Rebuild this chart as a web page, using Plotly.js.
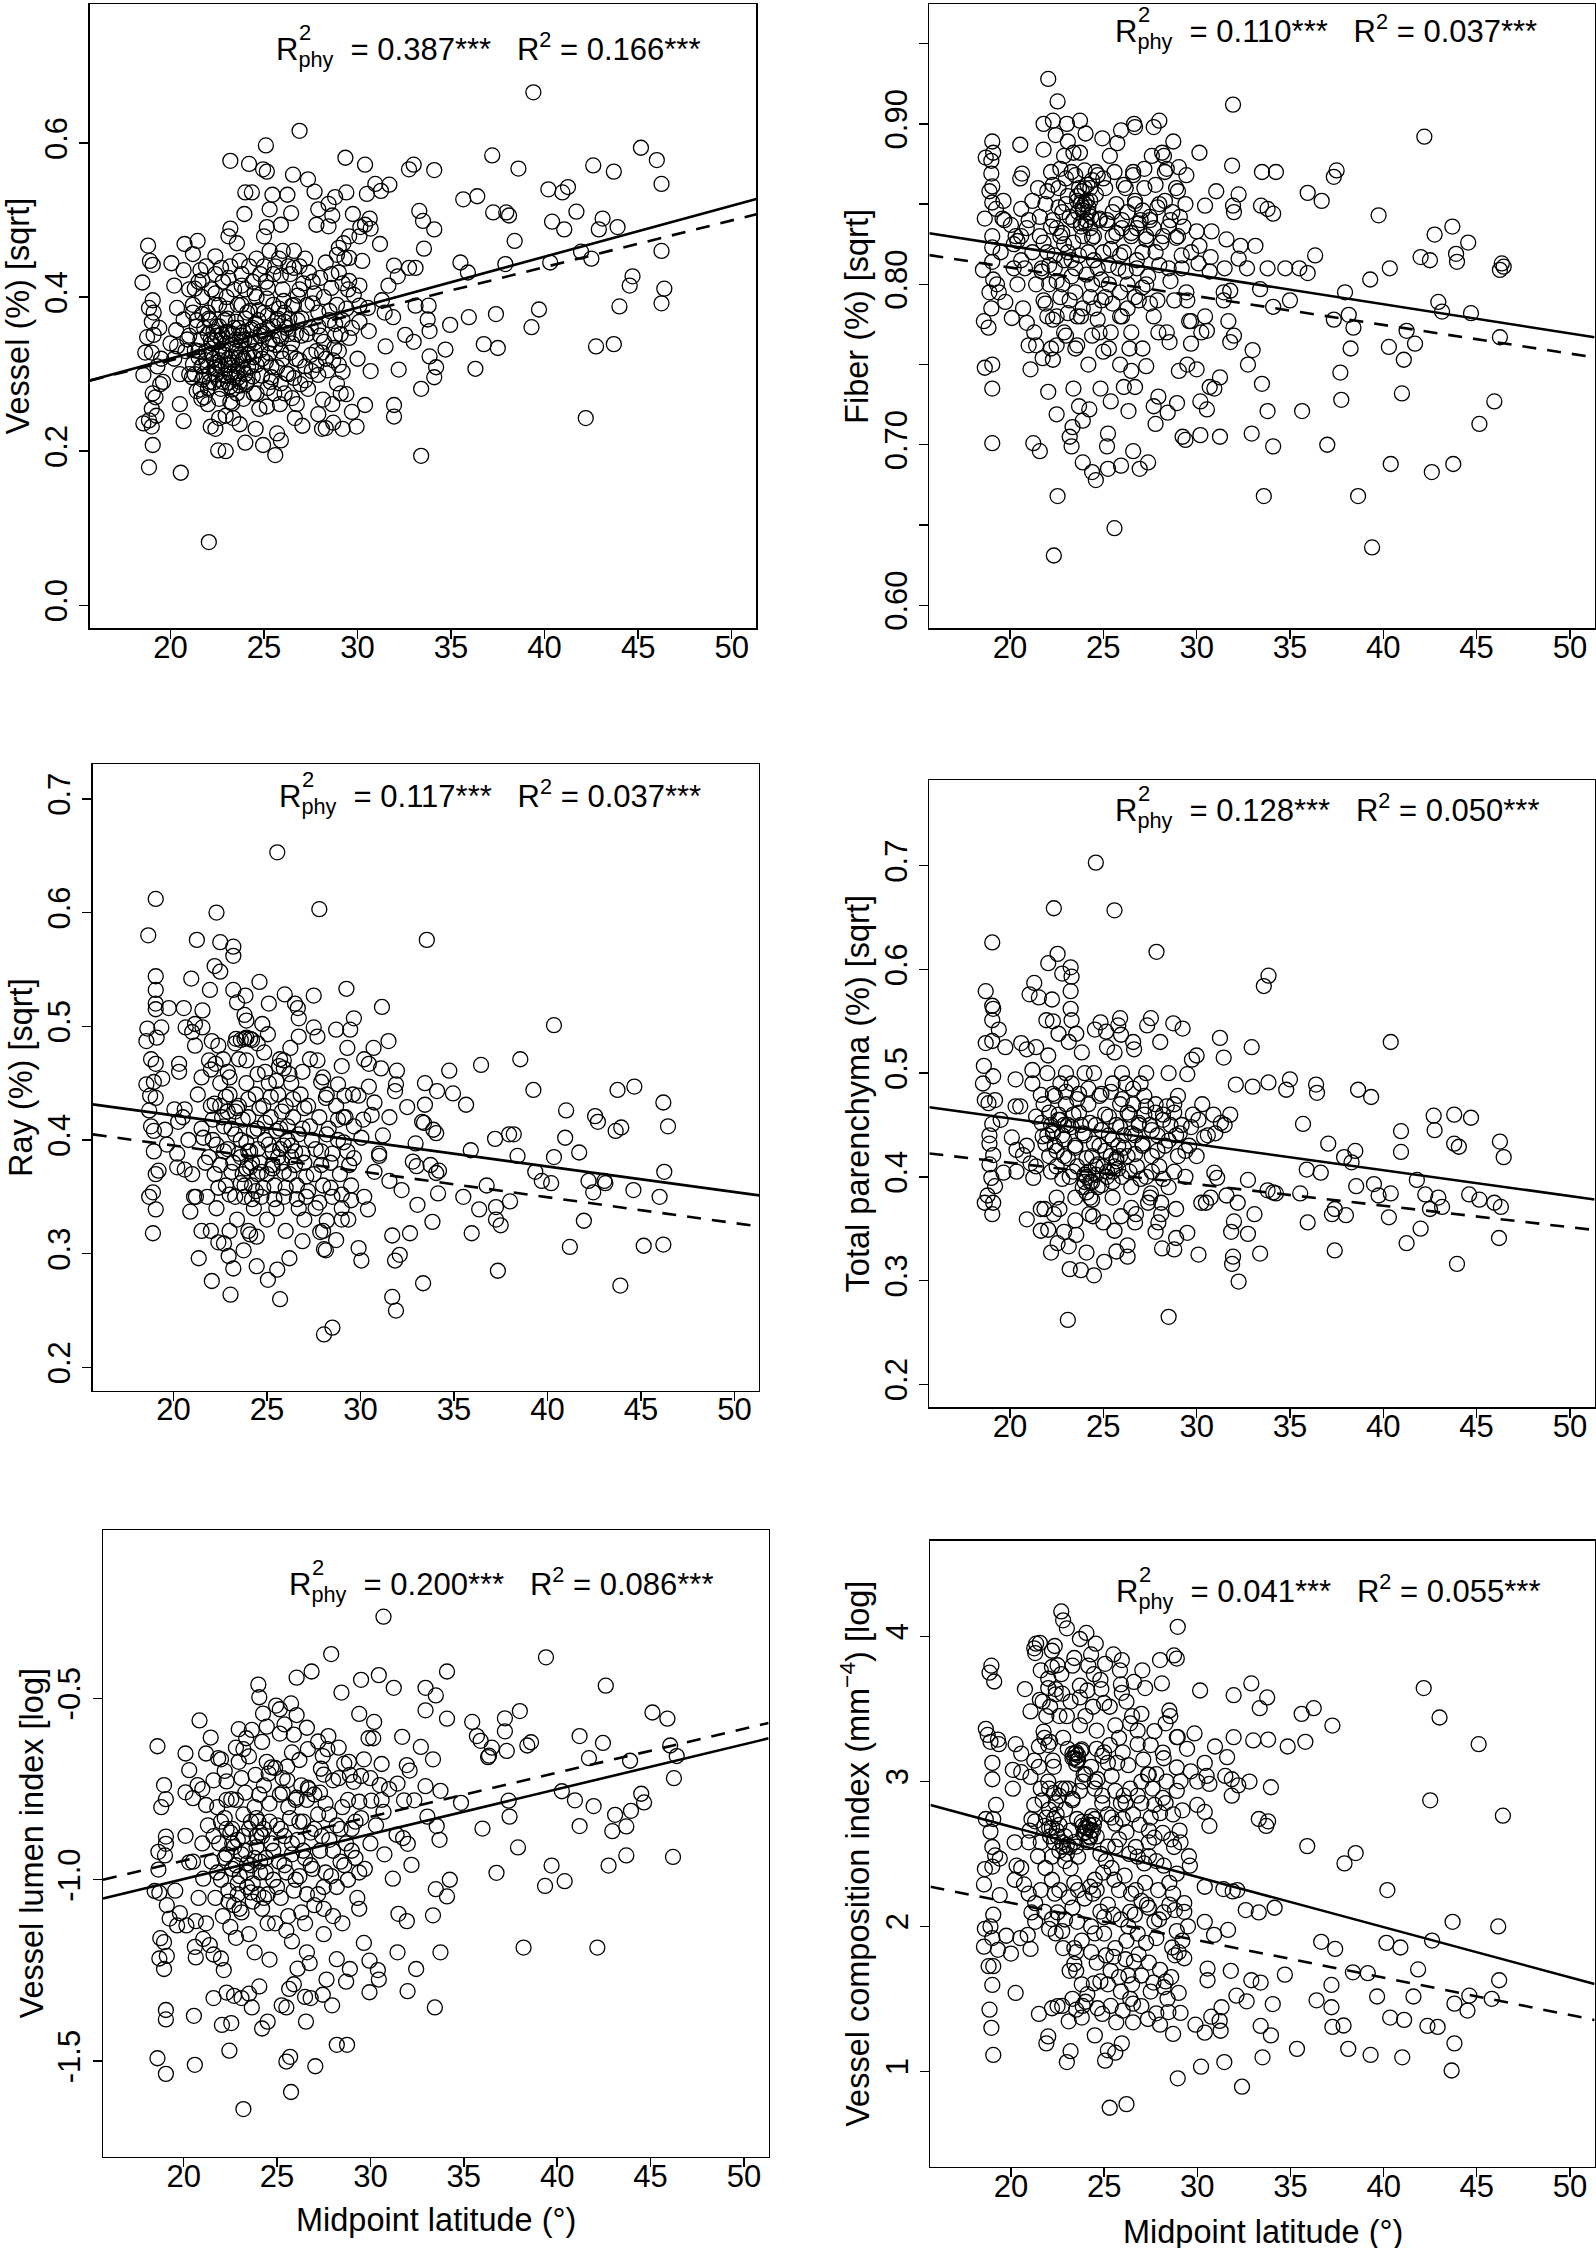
<!DOCTYPE html>
<html><head><meta charset="utf-8">
<script src="https://cdn.plot.ly/plotly-3.0.1.min.js"></script>
<style>html,body{margin:0;padding:0;background:#fff}</style>
</head><body>
<div id="chart" style="width:1596px;height:2248px"></div>
<script>
// ---------- DATA ----------
const latTicks = [20, 25, 30, 35, 40, 45, 50];
const latTickText = ["20", "25", "30", "35", "40", "45", "50"];

const yTitles = ["Vessel (%) [sqrt]", "Fiber (%) [sqrt]", "Ray (%) [sqrt]",
  "Total parenchyma (%) [sqrt]", "Vessel lumen index [log]",
  "Vessel composition index (mm<sup>\u22124</sup>) [log]"];
const xTitle = "Midpoint latitude (\u00b0)";

const vesselTicks = [0, 0.2, 0.4, 0.6];
const vesselTickText = ["0.0", "0.2", "0.4", "0.6"];
const fiberTicks = [0.60, 0.65, 0.70, 0.75, 0.80, 0.85, 0.90, 0.95];
const fiberTickText = ["0.60", "", "0.70", "", "0.80", "", "0.90", ""];
const rayTicks = [0.2, 0.3, 0.4, 0.5, 0.6, 0.7];
const rayTickText = ["0.2", "0.3", "0.4", "0.5", "0.6", "0.7"];
const parTicks = [0.2, 0.3, 0.4, 0.5, 0.6, 0.7];
const parTickText = ["0.2", "0.3", "0.4", "0.5", "0.6", "0.7"];
const lumenTicks = [-1.5, -1.0, -0.5];
const lumenTickText = ["-1.5", "-1.0", "-0.5"];
const compTicks = [1, 2, 3, 4];
const compTickText = ["1", "2", "3", "4"];

const rPhy = ["0.387", "0.110", "0.117", "0.128", "0.200", "0.041"];
const rSq = ["0.166", "0.037", "0.037", "0.050", "0.086", "0.055"];

// regression lines: intercept, slope (solid = phylogenetic, dashed = OLS)
const solidA = [0.1879, 0.8603, 0.4666, 0.5062, -1.2457, 3.380];
const solidB = [0.006616, -0.001818, -0.002247, -0.002494, 0.012382, -0.03464];
const dashA = [0.1966, 0.8462, 0.4406, 0.4550, -1.1902, 2.677];
const dashB = [0.00606, -0.001787, -0.002273, -0.002071, 0.01213, -0.02577];

const vesselPts = [[39.4,0.666],[45.15,0.594],[46.0,0.578],[46.25,0.547],[46.25,0.460],[46.4,0.411],[46.25,0.392],[44.7,0.427],[44.55,0.415],[44.0,0.388],[43.7,0.339],[42.75,0.336],[42.2,0.243],[43.7,0.563],[42.6,0.571],[43.1,0.502],[42.9,0.488],[43.9,0.491],[42.5,0.450],[41.95,0.459],[41.7,0.511],[41.05,0.488],[41.25,0.543],[40.95,0.536],[40.2,0.540],[40.4,0.498],[40.3,0.445],[39.7,0.384],[39.3,0.361],[38.6,0.567],[38.4,0.473],[38.1,0.506],[37.95,0.510],[37.9,0.443],[37.2,0.584],[37.25,0.510],[37.4,0.378],[37.5,0.334],[36.4,0.531],[35.65,0.527],[35.5,0.445],[35.9,0.432],[35.95,0.374],[36.75,0.339],[36.3,0.307],[34.95,0.364],[34.7,0.332],[34.1,0.565],[34.1,0.488],[33.3,0.512],[33.5,0.499],[33.55,0.463],[33.0,0.572],[32.75,0.566],[33.1,0.438],[32.75,0.438],[33.8,0.389],[33.75,0.371],[33.85,0.356],[33.85,0.323],[34.2,0.309],[34.1,0.296],[33.4,0.281],[33.4,0.194],[33.0,0.342],[32.55,0.351],[33.1,0.389],[32.2,0.306],[31.95,0.260],[31.95,0.245],[31.7,0.546],[30.95,0.547],[31.25,0.538],[30.4,0.572],[29.35,0.581],[30.5,0.534],[29.4,0.536],[28.8,0.530],[29.75,0.508],[30.65,0.502],[30.4,0.494],[31.2,0.469],[31.95,0.441],[32.15,0.427],[31.65,0.415],[31.3,0.396],[31.45,0.380],[31.9,0.374],[31.5,0.336],[30.6,0.356],[30.7,0.304],[30.0,0.320],[30.4,0.260],[29.95,0.232],[29.7,0.251],[29.2,0.229],[28.7,0.237],[28.3,0.230],[28.1,0.229],[27.9,0.248],[27.05,0.233],[26.65,0.243],[25.9,0.214],[25.7,0.223],[25.6,0.195],[24.95,0.208],[24.55,0.229],[24.0,0.211],[23.7,0.235],[22.95,0.200],[22.55,0.201],[22.05,0.082],[22.4,0.229],[22.15,0.232],[20.55,0.172],[18.85,0.179],[19.05,0.208],[18.85,0.240],[18.55,0.236],[19.0,0.232],[20.5,0.261],[20.7,0.239],[21.15,0.296],[18.55,0.299],[18.65,0.328],[18.75,0.348],[18.85,0.386],[18.5,0.419],[18.8,0.467],[18.9,0.447],[19.05,0.442],[19.05,0.396],[19.1,0.380],[19.0,0.368],[19.1,0.351],[19.0,0.328],[19.05,0.275],[19.2,0.270],[19.0,0.255],[19.25,0.246],[19.45,0.287],[20.05,0.444],[20.2,0.415],[20.35,0.386],[20.7,0.371],[20.3,0.357],[20.35,0.336],[20.75,0.469],[20.7,0.435],[21.2,0.456],[21.45,0.473],[21.6,0.435],[21.3,0.411],[21.2,0.380],[20.9,0.345],[21.3,0.331],[21.2,0.313],[21.65,0.310],[21.7,0.293],[21.65,0.268],[22.0,0.261],[22.4,0.453],[22.7,0.438],[23.2,0.489],[23.1,0.479],[23.2,0.577],[24.2,0.573],[23.55,0.470],[23.7,0.447],[23.95,0.508],[24.0,0.536],[24.35,0.536],[25.1,0.597],[25.15,0.563],[24.95,0.566],[25.45,0.533],[26.25,0.533],[26.55,0.559],[26.9,0.616],[27.35,0.553],[27.7,0.537],[27.9,0.514],[26.45,0.509],[25.9,0.494],[25.3,0.514],[25.15,0.491],[25.0,0.479],[27.8,0.494],[28.45,0.521],[28.65,0.506],[28.45,0.492],[29.0,0.464],[29.25,0.470],[29.55,0.479],[29.55,0.451],[30.1,0.479],[30.15,0.491],[30.25,0.447],[30.7,0.489],[29.0,0.432],[29.55,0.421],[30.1,0.415],[29.8,0.403],[30.1,0.389],[30.55,0.386],[30.1,0.368],[29.55,0.347],[28.75,0.334],[29.2,0.303],[28.9,0.288],[29.4,0.274],[29.1,0.275],[28.65,0.261],[28.15,0.267],[27.9,0.299],[27.55,0.304],[27.35,0.281],[26.75,0.261],[26.95,0.287],[26.5,0.269],[26.1,0.275],[25.85,0.261],[25.55,0.275],[25.35,0.290],[25.15,0.258],[24.75,0.255],[24.45,0.275],[24.05,0.287],[23.55,0.275],[23.2,0.264],[22.95,0.246],[22.6,0.243],[23.35,0.243],[23.1,0.289],[22.55,0.293],
[21.8,0.36],[21.9,0.33],[22.0,0.31],[22.1,0.29],[22.2,0.34],[22.3,0.32],[22.4,0.30],[22.5,0.35],[22.6,0.33],[22.7,0.31],[22.8,0.29],[22.9,0.37],[23.0,0.34],[23.1,0.32],[23.2,0.30],[23.3,0.28],[23.4,0.36],[23.5,0.33],[23.6,0.31],[23.7,0.29],[23.8,0.35],[23.9,0.32],[24.0,0.30],[24.1,0.38],[24.2,0.34],[24.3,0.31],[24.4,0.36],[24.5,0.33],[24.6,0.40],[24.7,0.37],[24.8,0.35],[24.9,0.32],[25.0,0.38],[25.1,0.42],[25.2,0.36],[25.3,0.34],[25.4,0.31],[25.5,0.39],[25.6,0.44],[25.7,0.37],[25.8,0.35],[25.9,0.33],[26.0,0.41],[26.1,0.38],[26.2,0.36],[26.3,0.30],[26.4,0.43],[26.5,0.34],[26.6,0.39],[26.7,0.32],[26.8,0.37],[26.9,0.41],[27.0,0.35],[27.2,0.31],[27.3,0.39],[27.5,0.36],[27.6,0.42],[27.8,0.33],[27.9,0.38],[28.0,0.35],[28.2,0.40],[28.3,0.32],[28.5,0.37],[28.6,0.43],[28.8,0.35],[28.9,0.39],[29.0,0.33],[29.2,0.37],[29.3,0.45],[29.5,0.41],[29.7,0.36],
[21.0,0.41],[21.2,0.39],[21.4,0.37],[21.5,0.42],[21.7,0.40],[21.9,0.44],[22.0,0.38],[22.2,0.41],[22.4,0.43],[22.6,0.39],[22.8,0.42],[23.0,0.40],[23.2,0.44],[23.4,0.41],[23.6,0.39],[23.8,0.43],[24.0,0.41],[24.2,0.44],[24.4,0.42],[24.6,0.45],[24.8,0.43],[25.0,0.44],[25.3,0.46],[25.5,0.43],[25.8,0.45],[26.0,0.46],[26.3,0.44],[26.6,0.46],[26.9,0.44],[27.2,0.45],
[19.3,0.31],[19.5,0.32],[19.6,0.29],[19.4,0.36],[20.0,0.34],[20.2,0.32],[20.5,0.30],[20.8,0.33],[21.0,0.30],[21.0,0.35],[21.5,0.33],[21.6,0.28],[21.7,0.31],[21.8,0.27],
[22.1,0.37],[22.3,0.355],[22.5,0.315],[22.7,0.345],[22.9,0.325],[23.1,0.355],[23.3,0.315],[23.5,0.345],[23.7,0.325],[23.9,0.355],[24.1,0.325],[24.3,0.345],[23.2,0.30],[23.6,0.295],[24.0,0.30],[22.4,0.39],[23.0,0.385],[23.8,0.39],
[21.3,0.300],[21.5,0.322],[21.6,0.345],[21.8,0.297],[21.9,0.318],[22.0,0.352],[22.1,0.301],[22.2,0.327],[22.3,0.289],[22.4,0.344],[22.5,0.306],[22.6,0.362],[22.7,0.281],[22.8,0.331],[22.9,0.298],[23.0,0.355],[23.1,0.312],[23.2,0.284],[23.3,0.338],[23.4,0.296],[23.5,0.368],[23.6,0.321],[23.7,0.285],[23.8,0.342],[23.9,0.306],[24.0,0.372],[24.1,0.290],[24.2,0.326],[24.3,0.358],[24.4,0.297],[24.5,0.341],[24.6,0.312],[24.7,0.383],[24.8,0.331],[24.9,0.298],[25.0,0.352],[25.1,0.316],[25.2,0.376],[25.3,0.327],[25.4,0.296],[25.5,0.362],[25.6,0.338],[25.7,0.309],[25.8,0.385],[25.9,0.346],[26.0,0.320],[26.1,0.368],[26.2,0.301],[26.3,0.352],[26.4,0.328],[26.5,0.389],[21.4,0.362],[21.7,0.378],[22.05,0.372],[22.35,0.308],[22.65,0.318],[22.95,0.312],[23.25,0.322],[23.55,0.301],[23.85,0.318],[24.15,0.309],[24.45,0.322],[22.15,0.345],[22.45,0.362],[22.75,0.352],[23.05,0.372],[23.35,0.352],[23.65,0.360],[23.95,0.345],[24.25,0.382],[24.55,0.366],[24.85,0.356],[25.15,0.398],[25.45,0.345],[25.75,0.372],[26.05,0.395],[26.35,0.372],[26.7,0.352],[27.0,0.372],[27.3,0.352],[27.6,0.392],[27.9,0.362],[28.2,0.342],[28.5,0.382],[28.8,0.365],[29.1,0.352],[29.4,0.385],[26.8,0.402],[27.1,0.418],[27.4,0.432],[27.7,0.405],[28.0,0.425],[28.3,0.445],[28.6,0.412],[28.9,0.455],[29.2,0.418],[26.6,0.438],[25.9,0.428],[25.2,0.412],[24.5,0.405],[23.8,0.415],[23.1,0.425],[22.4,0.405],[21.7,0.422],[26.9,0.318],[27.2,0.292],[27.5,0.325],[27.8,0.312],[28.1,0.328],[28.4,0.305],[28.7,0.318],[29.0,0.312],[26.6,0.295],[25.9,0.288],[25.2,0.282],[24.6,0.275],[23.9,0.268],[23.3,0.262],[22.6,0.268],[22.0,0.282],[21.4,0.278]];

const fiberPts = [[22.05,0.928],[22.55,0.914],[31.95,0.912],[42.2,0.892],[22.3,0.902],[21.8,0.900],[23.75,0.902],[23.05,0.900],[26.65,0.900],[26.7,0.898],[28.0,0.902],[27.7,0.898],[24.05,0.894],[24.95,0.891],[25.95,0.896],[25.75,0.888],[28.75,0.889],[22.45,0.893],[23.1,0.889],[20.55,0.887],[19.05,0.889],[19.1,0.882],[18.7,0.879],[19.0,0.877],[23.4,0.882],[23.75,0.882],[21.8,0.884],[25.35,0.880],[28.15,0.882],[28.25,0.880],[30.15,0.882],[31.9,0.874],[33.5,0.870],[34.25,0.870],[37.5,0.871],[37.35,0.867],[20.65,0.869],[20.55,0.866],[19.0,0.869],[19.05,0.861],[18.9,0.858],[19.05,0.851],[19.25,0.847],[18.65,0.841],[19.65,0.852],[19.6,0.841],[20.05,0.837],[20.6,0.847],[20.4,0.827],[19.05,0.830],[19.05,0.823],[19.05,0.814],[18.55,0.809],[19.1,0.803],[18.9,0.795],[19.4,0.795],[19.75,0.789],[19.0,0.785],[18.6,0.777],[18.85,0.773],[20.1,0.779],[20.7,0.785],[20.9,0.776],[18.65,0.748],[19.05,0.750],[19.05,0.735],[19.05,0.701],[21.1,0.747],[21.25,0.701],[21.6,0.696],[21.0,0.762],[21.4,0.762],[21.75,0.754],[22.3,0.753],[22.05,0.733],[22.5,0.719],[22.55,0.668],[22.35,0.631],[23.35,0.711],[23.2,0.705],[23.3,0.699],[23.4,0.735],[23.7,0.724],[23.9,0.715],[24.25,0.722],[23.9,0.689],[24.4,0.683],[24.6,0.678],[24.85,0.735],[25.2,0.699],[25.25,0.707],[25.4,0.727],[25.25,0.685],[25.6,0.648],[25.95,0.687],[26.1,0.736],[26.35,0.721],[26.6,0.696],[26.95,0.685],[27.4,0.689],[26.7,0.736],[26.5,0.746],[27.3,0.749],[27.7,0.724],[27.95,0.730],[27.8,0.713],[28.45,0.720],[28.95,0.726],[29.25,0.705],[29.4,0.703],[29.05,0.746],[29.5,0.750],[30.0,0.747],[30.2,0.727],[30.2,0.706],[30.55,0.722],[30.7,0.736],[30.95,0.735],[31.25,0.742],[31.25,0.705],[27.95,0.770],[28.55,0.764],[29.7,0.763],[29.6,0.777],[30.45,0.780],[30.55,0.771],[30.25,0.770],[31.7,0.777],[31.8,0.764],[32.0,0.768],[33.0,0.759],[32.75,0.750],[33.5,0.738],[33.8,0.721],[32.95,0.707],[34.1,0.699],[33.6,0.668],[35.65,0.721],[37.0,0.700],[37.7,0.745],[37.75,0.728],[38.65,0.668],[39.4,0.636],[40.4,0.688],[42.6,0.683],[43.75,0.688],[45.15,0.713],[45.95,0.727],[41.0,0.732],[41.1,0.753],[40.3,0.761],[41.7,0.763],[41.25,0.771],[38.4,0.773],[38.25,0.760],[37.35,0.778],[38.15,0.781],[37.95,0.795],[42.95,0.789],[43.15,0.783],[44.7,0.782],[46.25,0.767],[46.25,0.809],[46.45,0.811],[46.35,0.813],[43.9,0.819],[43.95,0.814],[44.55,0.826],[43.7,0.836],[42.75,0.831],[42.5,0.815],[42.0,0.817],[40.35,0.810],[39.3,0.803],[39.75,0.843],[36.7,0.852],[35.95,0.857],[36.35,0.818],[35.95,0.807],[35.5,0.810],[34.75,0.810],[35.0,0.790],[34.1,0.786],[33.8,0.810],[32.7,0.810],[33.4,0.797],[33.45,0.849],[33.8,0.847],[34.1,0.844],[32.25,0.856],[31.95,0.849],[32.0,0.845],[31.05,0.858],[30.45,0.849],[31.6,0.828],[32.35,0.824],[33.15,0.824],[32.25,0.816],[31.5,0.810],[30.75,0.817],[30.8,0.833],[30.0,0.833],[30.15,0.824],[30.7,0.808],[31.45,0.795],[31.8,0.796],[31.45,0.790],[29.45,0.868],[29.05,0.873],[30.1,0.813],[29.45,0.795],[29.7,0.777],
[21.0,0.84],[21.2,0.82],[21.4,0.80],[21.5,0.86],[21.6,0.83],[21.7,0.81],[21.8,0.79],[21.9,0.85],[22.0,0.82],[22.1,0.80],[22.2,0.87],[22.3,0.84],[22.4,0.81],[22.5,0.78],[22.6,0.86],[22.7,0.83],[22.8,0.80],[22.9,0.88],[23.0,0.85],[23.1,0.82],[23.2,0.79],[23.3,0.87],[23.4,0.84],[23.5,0.81],[23.6,0.78],[23.7,0.86],[23.8,0.85],[23.9,0.83],[24.0,0.85],[24.1,0.84],[24.2,0.82],[24.3,0.86],[24.4,0.80],[24.5,0.83],[24.6,0.87],[24.7,0.81],[24.8,0.84],[24.9,0.79],[25.0,0.82],[25.1,0.86],[25.2,0.84],[25.3,0.80],[25.4,0.77],[25.5,0.83],[25.6,0.87],[25.7,0.85],[25.8,0.81],[25.9,0.78],[26.0,0.84],[26.1,0.82],[26.2,0.86],[26.3,0.80],[26.4,0.76],[26.5,0.83],[26.6,0.87],[26.7,0.85],[26.8,0.81],[26.9,0.79],[27.0,0.84],[27.1,0.82],[27.2,0.86],[27.3,0.80],[27.5,0.84],[27.6,0.88],[27.8,0.82],[27.9,0.79],[28.0,0.85],[28.2,0.83],[28.3,0.87],[28.5,0.81],[28.6,0.84],[28.8,0.79],[28.9,0.86],[29.0,0.83],[29.2,0.81],[29.4,0.85],[29.5,0.79],[29.7,0.82],
[21.3,0.77],[22.2,0.76],[22.9,0.77],[23.5,0.76],[24.2,0.75],[24.8,0.77],[25.3,0.76],[25.9,0.75],[26.5,0.77],[27.1,0.76],[27.7,0.78],[28.4,0.77],[22.0,0.78],[23.8,0.78],[24.5,0.785],[26.0,0.78],
[20.2,0.81],[20.4,0.80],[20.6,0.83],[20.8,0.81],[20.3,0.83],[19.5,0.82],[19.3,0.80],[19.7,0.84],
[23.9,0.848],[24.1,0.852],[24.2,0.845],[23.8,0.838],[24.3,0.835],[24.0,0.86],[24.4,0.865],[23.6,0.855],[22.8,0.845],[22.5,0.835],[22.9,0.825],[23.3,0.815],[25.5,0.845],[26.0,0.835],[26.8,0.835],[27.3,0.83],
[21.6,0.842],[21.8,0.826],[22.0,0.858],[22.2,0.836],[22.4,0.818],[22.6,0.848],[22.8,0.832],[23.0,0.866],[23.2,0.842],[23.4,0.826],[23.6,0.852],[23.8,0.836],[24.0,0.871],[24.2,0.848],[24.4,0.829],[24.6,0.856],[24.8,0.841],[25.0,0.866],[25.2,0.838],[25.4,0.822],[21.7,0.808],[22.1,0.812],[22.5,0.802],[22.9,0.815],[23.3,0.805],[23.7,0.818],[24.1,0.806],[24.5,0.815],[24.9,0.803],[25.3,0.812],[22.3,0.862],[22.7,0.872],[23.1,0.855],[23.5,0.868],[23.9,0.846],[24.3,0.852],[24.7,0.868],[23.85,0.858],[24.15,0.862],[23.65,0.845],[24.05,0.838],[24.35,0.842],[26.3,0.845],[26.5,0.832],[26.7,0.852],[26.9,0.838],[27.1,0.846],[27.3,0.828],[27.5,0.842],[27.7,0.835],[27.9,0.848],[28.1,0.826],[28.3,0.852],[28.5,0.836],[28.7,0.845],[28.9,0.829],[29.1,0.842],[29.3,0.836],[26.1,0.862],[26.6,0.868],[27.2,0.872],[27.8,0.862],[28.4,0.872],[29.0,0.858],[25.7,0.832],[25.9,0.818],[26.2,0.808],[26.8,0.815],[27.4,0.805],[28.0,0.812],[28.6,0.802],[29.2,0.818],[21.9,0.788],[22.3,0.778],[22.7,0.792],[23.1,0.782],[23.5,0.795],[23.9,0.785],[24.3,0.792],[24.7,0.778],[25.1,0.792],[25.5,0.788],[25.9,0.795],[26.3,0.785],[26.7,0.792],[27.1,0.798],[27.5,0.788],[22.5,0.762],[23.0,0.768],[23.6,0.762],[24.4,0.768],[25.0,0.758],[20.2,0.825],[20.6,0.815],[20.9,0.835],[21.2,0.852]];

const rayPts = [[25.55,0.653],[19.05,0.612],[22.3,0.600],[27.8,0.603],[18.65,0.580],[21.25,0.576],[33.55,0.576],[22.5,0.574],[23.2,0.570],[23.2,0.562],[22.2,0.553],[22.5,0.548],[20.95,0.542],[19.05,0.544],[19.05,0.532],[19.05,0.520],[19.05,0.515],[19.35,0.499],[18.6,0.498],[18.55,0.487],[19.1,0.490],[19.75,0.516],[20.55,0.516],[20.65,0.499],[20.3,0.460],[20.3,0.467],[18.8,0.471],[19.05,0.467],[19.4,0.454],[18.95,0.451],[18.55,0.449],[18.75,0.439],[19.05,0.437],[18.7,0.426],[18.8,0.412],[18.95,0.408],[19.55,0.409],[19.65,0.396],[18.95,0.390],[19.05,0.370],[19.2,0.373],[18.7,0.350],[18.9,0.354],[19.05,0.339],[18.9,0.318],[20.05,0.427],[20.25,0.416],[20.6,0.427],[20.2,0.376],[20.6,0.374],[20.2,0.388],[20.9,0.337],[21.1,0.350],[21.35,0.296],[22.05,0.276],[23.05,0.264],[23.2,0.287],[22.95,0.298],[22.7,0.309],[23.75,0.303],[24.45,0.315],[24.1,0.317],[24.45,0.289],[25.05,0.277],[25.55,0.286],[25.7,0.260],[26.2,0.296],[26.9,0.311],[28.05,0.304],[28.15,0.303],[28.05,0.229],[28.5,0.235],[28.7,0.312],[27.85,0.319],[28.2,0.329],[29.35,0.330],[29.9,0.305],[30.05,0.294],[30.4,0.339],[30.2,0.350],[29.5,0.347],[31.7,0.316],[31.7,0.262],[31.9,0.250],[31.85,0.294],[32.1,0.299],[32.65,0.318],[32.2,0.356],[33.05,0.343],[33.35,0.274],[33.85,0.328],[34.15,0.353],[34.05,0.371],[34.2,0.373],[33.75,0.378],[32.8,0.381],[33.0,0.377],[32.95,0.397],[32.5,0.429],[33.45,0.450],[33.45,0.431],[33.3,0.416],[33.4,0.415],[33.9,0.409],[34.05,0.406],[34.1,0.443],[34.75,0.461],[34.95,0.441],[35.65,0.431],[35.9,0.391],[35.5,0.350],[35.95,0.318],[36.35,0.339],[36.75,0.360],[36.45,0.466],[37.2,0.401],[37.25,0.341],[37.25,0.330],[37.5,0.325],[37.35,0.285],[38.0,0.346],[37.95,0.405],[38.2,0.405],[38.4,0.386],[38.55,0.471],[39.25,0.444],[39.35,0.372],[39.7,0.364],[40.2,0.362],[40.35,0.385],[40.35,0.501],[41.0,0.426],[40.95,0.402],[41.7,0.389],[41.2,0.306],[41.95,0.329],[42.2,0.364],[42.45,0.354],[42.55,0.421],[42.7,0.416],[43.05,0.364],[43.1,0.362],[43.75,0.444],[43.65,0.408],[43.95,0.411],[43.9,0.272],[44.65,0.447],[44.6,0.356],[45.15,0.307],[46.0,0.350],[46.2,0.433],[46.45,0.412],[46.25,0.372],[46.2,0.308],[31.15,0.517],[31.5,0.487],[30.7,0.481],[30.45,0.467],[30.2,0.471],[29.65,0.507],[29.45,0.497],[29.25,0.533],[29.3,0.481],[28.7,0.497],[27.5,0.527],[27.5,0.499],[27.7,0.491],[27.3,0.471],[26.7,0.491],[26.65,0.516],[26.5,0.520],[26.7,0.507],[25.95,0.528],[25.1,0.520],[24.6,0.539],[23.85,0.527],[23.2,0.532],[23.4,0.521],[21.95,0.532],[21.55,0.514],[21.15,0.502],[21.0,0.495],[21.55,0.499],[21.15,0.483],[23.8,0.510],[23.9,0.505],[24.75,0.502],[25.05,0.493],[23.35,0.489],[23.8,0.489],[24.1,0.489],[24.85,0.477],[25.65,0.465],[25.9,0.463],[26.25,0.481],[25.7,0.471],[22.4,0.483],[22.05,0.487],[22.25,0.467],[22.65,0.471],[23.5,0.471],[27.9,0.451],[28.15,0.437],[28.8,0.449],[29.15,0.439],[29.9,0.439],[30.45,0.447],[31.1,0.463],[31.95,0.461],[31.9,0.449],[31.85,0.443],[31.55,0.420],[30.75,0.433],[30.6,0.422],[30.15,0.418],[31.2,0.404],[31.0,0.388],[31.0,0.386],[30.75,0.372],[31.55,0.364],[29.65,0.384],[30.05,0.402],[29.65,0.412],[29.1,0.420],
[21.3,0.44],[21.5,0.41],[21.7,0.38],[21.8,0.35],[22.0,0.43],[22.1,0.40],[22.2,0.37],[22.3,0.34],[22.5,0.45],[22.6,0.42],[22.7,0.39],[22.8,0.36],[23.0,0.44],[23.1,0.41],[23.2,0.38],[23.3,0.35],[23.4,0.33],[23.5,0.43],[23.6,0.40],[23.7,0.37],[23.8,0.35],[23.9,0.45],[24.0,0.42],[24.1,0.39],[24.2,0.36],[24.3,0.34],[24.4,0.44],[24.5,0.41],[24.6,0.38],[24.7,0.35],[24.8,0.43],[24.9,0.40],[25.0,0.37],[25.1,0.45],[25.2,0.42],[25.3,0.39],[25.4,0.36],[25.5,0.34],[25.6,0.44],[25.7,0.41],[25.8,0.38],[25.9,0.35],[26.0,0.43],[26.1,0.40],[26.2,0.37],[26.3,0.45],[26.4,0.42],[26.5,0.39],[26.6,0.36],[26.7,0.34],[26.8,0.44],[26.9,0.41],[27.0,0.38],[27.1,0.35],[27.2,0.43],[27.4,0.40],[27.5,0.37],[27.6,0.34],[27.8,0.42],[27.9,0.39],[28.0,0.36],[28.2,0.44],[28.3,0.41],[28.4,0.38],[28.5,0.35],[28.7,0.43],[28.8,0.40],[28.9,0.37],[29.0,0.34],[29.2,0.42],[29.3,0.39],[29.5,0.36],[29.6,0.44],[21.9,0.47],[22.9,0.46],[23.9,0.47],[24.9,0.46],[25.9,0.47],[26.9,0.46],[27.7,0.47],[20.8,0.40],[20.5,0.42],[21.0,0.37],[21.2,0.35],[21.5,0.32],[22.0,0.32],[22.4,0.31],[23.0,0.32],[24.0,0.32],[25.0,0.33],[26.0,0.32],[27.0,0.33],[28.0,0.32],[29.0,0.33],
[23.6,0.385],[23.9,0.375],[24.2,0.38],[24.5,0.37],[24.0,0.39],[23.8,0.36],[24.4,0.355],[25.3,0.375],[25.6,0.385],[25.9,0.395],[26.3,0.385],[22.5,0.43],[22.9,0.425],[23.3,0.425],
[21.6,0.402],[21.9,0.385],[22.1,0.418],[22.3,0.396],[22.5,0.378],[22.7,0.412],[22.9,0.392],[23.1,0.372],[23.3,0.405],[23.5,0.388],[23.7,0.418],[23.9,0.398],[24.1,0.376],[24.3,0.408],[24.5,0.392],[24.7,0.372],[24.9,0.415],[25.1,0.396],[25.3,0.378],[25.5,0.408],[25.7,0.392],[25.9,0.372],[26.1,0.412],[26.3,0.395],[26.5,0.378],[26.7,0.405],[26.9,0.388],[27.1,0.368],[27.3,0.412],[27.6,0.392],[27.9,0.378],[28.2,0.405],[28.5,0.388],[28.8,0.418],[29.1,0.398],[29.4,0.378],[22.2,0.432],[22.8,0.438],[23.4,0.428],[24.0,0.436],[24.6,0.428],[25.2,0.438],[25.8,0.425],[26.4,0.436],[27.0,0.428],[22.4,0.358],[23.0,0.352],[23.6,0.362],[24.2,0.348],[24.8,0.358],[25.4,0.348],[26.0,0.358],[26.6,0.348],[27.2,0.355],[27.8,0.345],[28.4,0.358],[29.0,0.352],[21.5,0.455],[22.0,0.462],[23.0,0.455],[24.5,0.458],[25.5,0.452],[26.2,0.458],[28.0,0.455],[29.0,0.465],[23.3,0.485],[23.6,0.488],[23.9,0.49],[24.2,0.488],[24.5,0.485]];

const parPts = [[24.6,0.703],[22.35,0.659],[25.6,0.657],[19.05,0.626],[27.85,0.617],[22.05,0.606],[22.55,0.615],[23.25,0.602],[23.3,0.593],[22.8,0.596],[33.85,0.594],[33.6,0.584],[21.3,0.587],[21.05,0.576],[21.55,0.573],[22.25,0.571],[23.25,0.579],[23.25,0.562],[23.3,0.551],[18.7,0.579],[19.05,0.565],[19.1,0.562],[19.05,0.551],[19.4,0.542],[19.05,0.531],[18.7,0.529],[19.75,0.525],[20.6,0.529],[20.9,0.523],[21.4,0.525],[21.95,0.551],[22.3,0.550],[22.05,0.517],[22.6,0.538],[23.15,0.530],[23.55,0.538],[23.85,0.520],[24.55,0.542],[24.85,0.549],[25.15,0.540],[25.2,0.525],[25.6,0.520],[25.9,0.553],[25.8,0.546],[25.95,0.537],[26.6,0.530],[26.65,0.523],[27.55,0.553],[27.35,0.546],[28.05,0.530],[28.75,0.548],[29.25,0.543],[29.75,0.513],[30.0,0.517],[29.5,0.499],[31.25,0.534],[31.45,0.515],[32.95,0.525],[40.4,0.530],[32.1,0.489],[33.0,0.487],[33.85,0.491],[34.8,0.484],[35.0,0.494],[36.4,0.489],[36.45,0.481],[38.65,0.484],[39.35,0.477],[35.7,0.451],[37.05,0.432],[38.5,0.425],[37.9,0.419],[38.3,0.414],[36.65,0.404],[35.9,0.407],[40.95,0.444],[40.95,0.424],[42.7,0.459],[42.75,0.445],[43.8,0.460],[44.7,0.457],[43.8,0.432],[44.05,0.429],[46.25,0.434],[46.45,0.419],[41.8,0.397],[42.25,0.383],[42.95,0.380],[43.15,0.371],[42.5,0.369],[44.6,0.383],[45.15,0.378],[45.95,0.375],[46.3,0.371],[46.2,0.341],[43.95,0.316],[42.0,0.350],[41.25,0.336],[40.3,0.361],[40.4,0.384],[39.75,0.382],[39.5,0.393],[38.55,0.391],[38.0,0.363],[37.4,0.369],[37.25,0.364],[37.4,0.329],[35.95,0.356],[35.55,0.384],[34.1,0.385],[34.25,0.384],[33.8,0.387],[33.1,0.364],[32.75,0.397],[32.2,0.375],[31.85,0.347],[32.0,0.357],[31.95,0.323],[31.9,0.316],[32.25,0.299],[32.75,0.345],[33.4,0.326],[31.6,0.382],[30.95,0.404],[31.1,0.399],[30.5,0.375],[30.25,0.375],[30.75,0.380],[30.1,0.325],[29.5,0.346],[28.9,0.341],[28.8,0.330],[28.15,0.331],[27.95,0.356],[27.8,0.347],[28.1,0.364],[28.5,0.265],[23.1,0.262],[23.2,0.311],[23.8,0.310],[24.5,0.305],[25.05,0.318],[24.1,0.327],[25.7,0.328],[26.3,0.323],[26.3,0.334],[25.6,0.348],[25.0,0.356],[23.55,0.344],[23.15,0.333],[22.55,0.336],[22.2,0.327],[22.9,0.347],[22.05,0.349],[21.65,0.348],[20.9,0.359],[21.85,0.369],[21.65,0.369],[22.35,0.364],[22.65,0.369],[23.5,0.358],[24.25,0.364],[24.45,0.362],[25.95,0.362],[26.7,0.356],[26.75,0.364],[27.4,0.375],[27.55,0.384],[28.1,0.375],[28.9,0.369],[18.65,0.375],[19.05,0.364],[19.1,0.375],[18.8,0.382],[19.2,0.391],[19.0,0.399],[19.65,0.404],[20.35,0.405],[18.9,0.412],[19.1,0.421],[18.9,0.432],[18.9,0.440],[19.05,0.451],[19.5,0.455],[18.65,0.474],[18.85,0.471],[19.2,0.474],[18.55,0.490],[19.1,0.497],[18.6,0.507],[20.3,0.494],[20.3,0.468],[20.55,0.468],[20.1,0.438],[20.35,0.426],[20.9,0.430],[20.7,0.421],[21.1,0.413],[21.25,0.399],[21.4,0.410],[21.2,0.503],[21.2,0.490],[21.65,0.479],[21.4,0.458],[21.75,0.439],
[21.8,0.47],[22.0,0.44],[22.1,0.42],[22.2,0.45],[22.3,0.48],[22.4,0.43],[22.5,0.41],[22.6,0.46],[22.7,0.49],[22.8,0.44],[22.9,0.42],[23.0,0.47],[23.1,0.45],[23.2,0.40],[23.3,0.49],[23.4,0.46],[23.5,0.43],[23.6,0.41],[23.7,0.48],[23.8,0.45],[23.9,0.39],[24.0,0.44],[24.1,0.40],[24.2,0.47],[24.3,0.38],[24.4,0.42],[24.5,0.50],[24.6,0.45],[24.7,0.39],[24.8,0.43],[24.9,0.48],[25.0,0.41],[25.1,0.46],[25.2,0.40],[25.3,0.44],[25.4,0.42],[25.5,0.49],[25.6,0.41],[25.7,0.45],[25.8,0.43],[25.9,0.47],[26.0,0.40],[26.1,0.44],[26.2,0.49],[26.3,0.42],[26.4,0.46],[26.5,0.39],[26.6,0.47],[26.7,0.44],[26.8,0.41],[26.9,0.45],[27.0,0.49],[27.1,0.43],[27.2,0.46],[27.3,0.40],[27.5,0.45],[27.6,0.42],[27.8,0.47],[27.9,0.44],[28.0,0.41],[28.2,0.46],[28.3,0.43],[28.5,0.39],[28.6,0.45],[28.8,0.47],[28.9,0.44],[29.0,0.42],[29.2,0.45],[29.4,0.40],[29.6,0.43],[29.8,0.46],[30.0,0.42],[30.3,0.47],[30.6,0.44],[30.9,0.46],[31.5,0.45],[31.8,0.46],[22.0,0.50],[23.0,0.50],[24.0,0.50],[26.0,0.50],[27.3,0.50],[28.5,0.50],[22.5,0.38],[23.5,0.38],[25.5,0.38],[26.5,0.37],[27.5,0.38],
[24.0,0.395],[24.2,0.405],[24.4,0.395],[24.6,0.41],[25.5,0.405],[25.7,0.415],[25.9,0.42],[22.3,0.445],[22.6,0.455],[22.9,0.45],
[21.7,0.452],[21.9,0.432],[22.1,0.462],[22.3,0.442],[22.5,0.425],[22.7,0.455],[22.9,0.436],[23.1,0.418],[23.3,0.448],[23.5,0.428],[23.7,0.462],[23.9,0.442],[24.1,0.418],[24.3,0.452],[24.5,0.432],[24.7,0.412],[24.9,0.445],[25.1,0.425],[25.3,0.458],[25.5,0.436],[25.7,0.418],[25.9,0.448],[26.1,0.428],[26.3,0.462],[26.5,0.442],[26.7,0.422],[26.9,0.452],[27.1,0.432],[27.3,0.468],[27.6,0.445],[27.9,0.425],[28.2,0.455],[28.5,0.435],[28.8,0.462],[29.1,0.442],[29.4,0.425],[24.0,0.402],[24.3,0.395],[24.6,0.402],[24.9,0.392],[25.2,0.405],[25.5,0.395],[25.8,0.408],[24.1,0.385],[24.4,0.378],[22.4,0.478],[23.0,0.482],[23.6,0.475],[24.2,0.485],[24.8,0.478],[25.4,0.482],[26.0,0.475],[26.6,0.485],[27.2,0.478],[27.8,0.462],[28.4,0.468],[29.0,0.478],[22.2,0.405],[22.8,0.398],[23.4,0.405],[26.4,0.405],[27.0,0.398],[27.6,0.405],[28.2,0.398],[28.8,0.405],[29.7,0.448],[30.1,0.455],[30.4,0.438],[31.0,0.442],[31.3,0.452]];

const lumenPts = [[30.7,-0.275],[27.9,-0.378],[39.4,-0.387],[26.85,-0.426],[30.45,-0.436],[34.1,-0.426],[29.5,-0.449],[26.05,-0.443],[24.0,-0.462],[31.25,-0.471],[32.95,-0.471],[33.5,-0.492],[42.6,-0.465],[28.45,-0.484],[24.05,-0.497],[24.95,-0.520],[25.15,-0.530],[25.75,-0.514],[24.25,-0.542],[26.05,-0.546],[29.4,-0.543],[38.0,-0.535],[45.1,-0.539],[45.9,-0.556],[32.95,-0.533],[34.1,-0.556],[35.45,-0.565],[37.2,-0.555],[37.2,-0.591],[20.85,-0.561],[25.4,-0.572],[26.6,-0.581],[30.2,-0.565],[23.65,-0.587],[22.95,-0.585],[24.45,-0.578],[25.15,-0.597],[21.45,-0.608],[23.35,-0.610],[27.2,-0.619],[27.75,-0.604],[29.9,-0.610],[30.15,-0.610],[31.7,-0.606],[35.7,-0.604],[35.9,-0.617],[41.2,-0.604],[42.45,-0.623],[18.6,-0.632],[22.8,-0.636],[23.2,-0.640],[28.3,-0.636],[32.7,-0.634],[36.5,-0.636],[37.3,-0.645],[38.4,-0.630],[38.6,-0.621],[46.05,-0.630],[20.1,-0.652],[21.2,-0.652],[21.85,-0.665],[22.0,-0.668],[25.8,-0.649],[26.65,-0.640],[27.45,-0.659],[36.35,-0.658],[36.3,-0.662],[41.7,-0.665],[43.9,-0.672],[46.4,-0.659],[33.35,-0.668],[20.3,-0.698],[22.95,-0.675],[24.45,-0.675],[24.9,-0.692],[25.55,-0.688],[27.35,-0.694],[28.85,-0.675],[29.65,-0.668],[30.6,-0.681],[31.95,-0.684],[32.1,-0.699],[46.25,-0.720],[18.95,-0.739],[20.1,-0.759],[20.75,-0.739],[21.6,-0.726],[22.3,-0.729],[23.1,-0.720],[23.85,-0.711],[24.55,-0.707],[25.55,-0.726],[26.65,-0.746],[28.0,-0.726],[28.9,-0.711],[29.5,-0.714],[30.5,-0.739],[31.45,-0.735],[32.95,-0.742],[33.75,-0.755],[40.25,-0.756],[44.5,-0.763],[19.05,-0.778],[18.8,-0.800],[20.5,-0.775],[21.2,-0.794],[22.55,-0.778],[24.05,-0.765],[25.15,-0.765],[26.05,-0.774],[27.0,-0.765],[29.4,-0.785],[30.05,-0.782],[31.8,-0.781],[32.35,-0.781],[34.85,-0.788],[37.4,-0.782],[40.95,-0.781],[41.95,-0.797],[44.65,-0.787],[43.95,-0.810],[43.1,-0.821],[37.45,-0.826],[42.95,-0.866],[43.7,-0.853],[41.2,-0.852],[36.0,-0.859],[33.7,-0.890],[33.55,-0.852],[33.05,-0.826],[30.7,-0.813],[31.4,-0.876],[31.75,-0.885],[32.0,-0.901],[30.75,-0.930],[37.9,-0.911],[43.7,-0.933],[46.2,-0.937],[39.7,-0.961],[42.75,-0.961],[36.75,-0.981],[32.2,-0.959],[39.35,-1.017],[40.4,-1.004],[34.25,-1.0],[33.5,-1.026],[34.1,-1.046],[33.35,-1.098],[31.2,-0.997],[31.5,-1.094],[31.95,-1.114],[31.45,-1.2],[33.75,-1.2],[38.2,-1.187],[42.15,-1.187],[32.45,-1.246],[31.99,-1.307],[33.45,-1.352],[30.4,-1.249],[30.45,-1.275],[29.95,-1.223],[29.95,-1.310],[29.65,-1.174],[28.9,-1.246],[28.7,-1.281],[28.2,-1.219],[27.65,-1.275],[27.95,-1.346],[27.45,-1.317],[26.8,-1.326],[26.5,-1.323],[26.55,-1.391],[26.75,-1.230],[26.1,-1.245],[25.9,-1.288],[25.65,-1.301],[25.5,-1.352],[25.25,-1.346],[28.2,-1.455],[28.75,-1.455],[27.05,-1.514],[25.7,-1.488],[25.5,-1.501],[25.75,-1.585],[23.2,-1.632],[22.45,-1.471],[22.05,-1.4],[22.55,-1.395],[20.55,-1.375],[20.6,-1.510],[18.6,-1.492],[19.05,-1.535],[19.05,-1.359],[19.05,-1.385],[18.95,-1.246],[19.1,-1.210],[18.7,-1.217],[18.95,-1.172],[18.75,-1.161],[19.25,-1.107],[19.1,-1.070],[18.7,-1.036],[19.55,-1.030],[19.8,-1.092],[19.65,-1.126],[20.15,-1.126],[20.65,-1.114],[20.6,-1.185],[20.65,-1.214],[21.05,-1.163],[21.6,-1.206],[22.0,-1.217],[22.15,-1.249],[22.3,-1.311],[22.7,-1.32],[23.1,-1.326],[23.65,-1.352],[24.05,-1.294],[23.5,-1.314],[24.2,-1.41],[24.5,-1.391],[21.6,-1.326],[19.0,-0.933],[18.65,-0.923],[19.05,-0.881],[19.05,-0.901],[20.1,-0.879],[20.3,-0.952],[21.05,-0.997],[18.65,-0.972],[18.45,-1.031],
[21.3,-0.85],[21.5,-0.95],[21.7,-1.05],[21.8,-0.80],[21.9,-0.90],[22.0,-1.00],[22.1,-1.10],[22.2,-0.83],[22.3,-0.93],[22.4,-1.03],[22.5,-0.87],[22.6,-0.97],[22.7,-1.07],[22.8,-0.78],[22.9,-0.89],[23.0,-0.99],[23.1,-1.09],[23.2,-0.82],[23.3,-0.92],[23.4,-1.02],[23.5,-0.86],[23.6,-0.96],[23.7,-1.06],[23.8,-0.80],[23.9,-0.88],[24.0,-0.84],[24.1,-0.98],[24.2,-1.08],[24.3,-0.86],[24.4,-0.94],[24.5,-1.04],[24.6,-0.79],[24.7,-0.90],[24.8,-1.00],[24.9,-1.12],[25.0,-0.85],[25.1,-0.95],[25.2,-1.05],[25.3,-0.76],[25.4,-0.88],[25.5,-0.98],[25.6,-1.10],[25.7,-0.83],[25.8,-0.93],[25.9,-1.03],[26.0,-0.78],[26.1,-0.89],[26.2,-0.99],[26.3,-1.09],[26.4,-0.84],[26.5,-0.94],[26.6,-1.04],[26.7,-0.75],[26.8,-0.87],[26.9,-0.97],[27.0,-1.07],[27.2,-0.82],[27.3,-0.92],[27.5,-1.02],[27.6,-0.79],[27.8,-0.89],[27.9,-0.99],[28.0,-1.10],[28.2,-0.85],[28.4,-0.95],[28.5,-0.80],[28.7,-0.90],[28.8,-1.00],[29.0,-0.86],[29.2,-0.94],[29.3,-1.05],[29.5,-0.83],[29.7,-0.97],[30.0,-0.90],[30.3,-0.85],[30.6,-0.78],
[22.2,-0.70],[23.5,-0.66],[24.7,-0.69],[26.2,-0.67],[27.5,-0.71],[28.6,-0.68],[29.1,-0.73],[30.0,-0.72],[31.0,-0.75],[24.2,-0.62],[25.9,-0.60],[27.7,-0.64],[21.0,-0.75],[21.0,-0.90],[20.8,-1.05],[21.2,-1.12],[20.5,-0.95],[21.4,-1.18],[22.8,-1.16],[23.8,-1.20],[24.6,-1.22],[25.8,-1.17],[26.6,-1.20],[27.5,-1.15],[28.5,-1.12],[29.4,-1.08],
[22.3,-0.86],[22.6,-0.90],[23.9,-0.83],[24.1,-0.87],[23.4,-0.955],[22.9,-1.04],[23.6,-1.035],[24.3,-1.05],
[21.6,-0.88],[21.8,-0.98],[22.0,-0.84],[22.2,-0.94],[22.4,-1.06],[22.6,-0.86],[22.8,-0.96],[23.0,-1.08],[23.2,-0.88],[23.4,-0.98],[23.6,-0.84],[23.8,-0.94],[24.0,-1.04],[24.2,-0.88],[24.4,-0.98],[24.6,-0.84],[24.8,-0.92],[25.0,-1.02],[25.2,-0.86],[25.4,-0.96],[25.6,-0.80],[25.8,-0.90],[26.0,-1.00],[26.2,-0.84],[26.4,-0.92],[26.6,-0.78],[26.8,-0.96],[27.0,-0.86],[27.2,-1.04],[27.4,-0.88],[27.6,-0.98],[27.8,-0.82],[28.0,-0.92],[28.2,-1.02],[28.4,-0.86],[28.6,-0.96],[28.8,-0.78],[29.0,-0.92],[29.2,-0.84],[29.4,-0.98],[22.3,-0.78],[23.3,-0.76],[24.3,-0.74],[25.3,-0.72],[26.3,-0.74],[27.3,-0.76],[28.3,-0.72],[22.5,-1.13],[23.5,-1.15],[24.5,-1.12],[25.5,-1.14],[26.5,-1.12],[27.5,-1.08],[23.1,-0.93],[23.9,-0.91],[24.1,-0.95],[22.7,-0.91],[23.7,-1.01],[22.9,-1.01]];

const compPts = [[22.7,4.171],[22.8,4.110],[23.0,4.055],[28.95,4.065],[24.05,4.023],[23.7,3.981],[24.55,3.949],[21.35,3.949],[21.55,3.955],[21.25,3.917],[21.3,3.884],[22.35,3.933],[22.2,3.900],[24.3,3.875],[25.5,3.875],[28.75,3.868],[28.9,3.846],[28.0,3.836],[25.95,3.836],[25.05,3.810],[18.95,3.797],[18.85,3.749],[19.1,3.688],[23.3,3.797],[24.15,3.797],[22.2,3.788],[21.6,3.765],[25.85,3.765],[27.05,3.765],[22.7,3.739],[22.0,3.707],[23.7,3.659],[24.45,3.739],[25.9,3.668],[26.6,3.685],[27.2,3.643],[28.1,3.675],[20.75,3.636],[22.0,3.643],[22.4,3.636],[22.75,3.604],[24.1,3.626],[24.85,3.636],[25.0,3.540],[25.95,3.610],[30.15,3.626],[31.95,3.594],[32.9,3.675],[33.75,3.578],[42.15,3.643],[33.35,3.504],[35.6,3.465],[36.25,3.504],[37.25,3.384],[43.0,3.440],[45.1,3.256],[34.85,3.240],[35.8,3.272],[33.0,3.282],[33.8,3.288],[31.95,3.304],[31.6,3.166],[30.95,3.240],[29.85,3.330],[28.9,3.304],[29.45,3.224],[27.7,3.346],[28.5,3.488],[28.55,3.449],[27.0,3.465],[26.5,3.449],[25.6,3.385],[25.3,3.514],[24.4,3.514],[23.7,3.578],[21.55,3.562],[22.1,3.514],[21.05,3.482],[23.0,3.449],[23.7,3.385],[21.75,3.343],[18.65,3.362],[18.75,3.320],[18.9,3.272],[19.3,3.288],[19.35,3.256],[20.25,3.256],[20.55,3.191],[21.5,3.240],[22.1,3.272],[21.25,3.143],[23.05,3.224],[23.3,3.191],[23.4,3.159],[23.55,3.143],[22.25,3.143],[24.6,3.224],[24.9,3.175],[25.2,3.127],[25.7,3.127],[26.3,3.111],[26.8,3.256],[28.15,3.198],[28.2,3.159],[28.95,3.304],[19.0,3.127],[19.0,3.014],[20.1,3.079],[20.55,3.063],[21.05,3.030],[20.1,2.949],[22.0,2.998],[22.05,2.949],[22.9,2.949],[23.9,3.046],[24.65,3.014],[25.4,3.037],[26.05,2.901],[27.0,2.998],[27.4,3.046],[28.35,2.998],[28.9,3.095],[29.65,3.069],[30.0,2.998],[30.4,3.127],[30.5,3.037],[30.65,2.982],[31.5,3.037],[31.85,3.014],[32.2,2.972],[32.8,2.998],[33.95,2.959],[31.85,2.901],[30.0,2.837],[30.4,2.789],[30.65,2.692],[33.3,2.740],[33.7,2.692],[33.8,2.724],[35.9,2.553],[42.5,2.869],[46.4,2.763],[37.9,2.434],[38.5,2.505],[40.2,2.250],[32.15,2.250],[31.9,2.241],[31.4,2.257],[30.4,2.273],[32.6,2.112],[33.3,2.096],[34.15,2.128],[31.65,1.975],[30.9,1.941],[30.4,2.031],[36.65,1.893],[37.4,1.844],[40.15,1.886],[40.9,1.854],[42.6,1.902],[43.7,2.031],[46.15,1.999],[41.85,1.703],[38.35,1.683],[39.15,1.677],[34.7,1.667],[31.8,1.693],[30.55,1.709],[30.55,1.628],[32.9,1.628],[33.4,1.612],[37.2,1.596],[46.2,1.628],[44.6,1.522],[45.8,1.500],[44.5,1.419],[43.8,1.467],[41.6,1.516],[39.65,1.516],[42.35,1.313],[42.9,1.306],[40.35,1.371],[41.1,1.355],[37.2,1.442],[36.4,1.490],[37.25,1.306],[37.85,1.316],[34.05,1.464],[32.65,1.483],[32.1,1.522],[31.3,1.442],[30.75,1.377],[31.2,1.348],[31.25,1.280],[30.4,1.267],[29.9,1.322],[33.4,1.313],[33.95,1.248],[38.1,1.155],[35.35,1.155],[33.5,1.097],[39.3,1.113],[41.0,1.097],[43.8,1.193],[43.65,1.006],[30.2,1.032],[31.45,1.064],[32.4,0.894],[28.95,0.952],[25.3,0.749],[26.2,0.774],[25.6,1.129],[25.95,1.193],[25.05,1.074],[25.2,1.145],[24.5,1.248],[23.0,1.064],[23.2,1.139],[22.0,1.241],[21.9,1.193],[21.5,1.396],[19.05,1.113],[18.95,1.300],[18.85,1.425],[20.25,1.541],[19.0,1.596],[19.05,1.725],[18.8,1.725],[18.55,1.860],[19.3,1.838],[19.0,1.919],[18.9,1.999],[18.6,1.983],[19.75,1.935],[20.0,1.812],[20.5,1.919],[20.9,1.941],[21.05,1.844],[19.05,2.080],[19.4,2.215],[18.55,2.289],[18.6,2.395],[19.0,2.412],[19.15,2.489],[19.0,2.547],[19.4,2.467],[18.9,2.653],[18.65,2.740],[19.05,2.740],[19.2,2.837],[20.2,2.579],[20.3,2.418],[20.55,2.402],[20.2,2.321],[20.7,2.289],[20.95,2.225],[21.1,2.096],[21.3,2.031],[21.3,2.160],[21.3,2.724],[21.0,2.660],[20.95,2.579],[22.2,1.435],[22.75,1.451],[23.1,1.345],[23.5,1.425],[23.85,1.451],[23.8,1.371],[24.1,1.532],[24.45,1.606],[24.65,1.435],[24.9,1.396],[25.35,1.451],[25.65,1.338],[26.0,1.419],[26.55,1.467],[26.55,1.338],[27.35,1.361],[28.0,1.322],[28.45,1.409],[28.7,1.258],[29.1,1.403],[29.0,1.541],[28.2,1.580],[27.65,1.612],[27.0,1.661],[26.3,1.661],[25.35,1.693],[25.1,1.799],[25.5,1.790],[26.15,1.773],[26.6,1.757],[26.85,1.806],[27.25,1.886],[27.8,1.919],[28.65,1.854],[29.0,1.822],[29.3,1.780],[28.9,1.967],[29.2,1.902],[28.2,2.096],[28.8,2.112],[29.3,2.160],[28.7,2.225],[28.9,2.363],[29.6,2.418],[29.55,2.483],[29.1,2.579],[29.05,2.660],[28.7,2.772],[28.9,2.934],[28.15,2.885],[27.7,2.837],[27.35,3.046],[26.8,2.901],[26.0,2.740],[25.6,2.708],[25.2,2.772],[24.5,2.740],[24.1,2.676],[24.25,2.611],[23.85,2.692],[23.55,2.740],[23.15,2.547],[22.75,2.579],[22.45,2.660],[22.05,2.676],[21.8,2.692],[21.6,2.579],[21.45,2.483],[21.85,2.402],[22.2,2.321],[22.35,2.225],[22.5,2.096],[22.75,1.967],[22.4,1.951],[22.05,1.983],[22.9,2.047],[23.3,2.128],[23.55,2.031],[23.8,1.902],[23.5,1.822],[23.4,1.741],[23.5,1.693],[23.15,1.693],[24.3,1.822],[24.5,1.951],[24.3,1.999],[24.8,2.102],[25.0,2.063],[25.5,2.080],[25.9,2.047],[26.3,1.999],[26.65,2.080],[26.45,2.225],[27.0,2.176],[27.4,2.128],[27.7,2.031],[27.95,2.047],[24.95,2.370],[25.4,2.402],[25.55,2.321],[24.5,2.321],[24.25,2.273],[23.95,2.192],[24.4,2.225],[26.35,2.499],[26.7,2.547],[27.15,2.434],[27.4,2.483],[27.4,2.579],[27.7,2.611],[28.15,2.644],[28.75,2.547],[28.2,2.418],[27.4,2.660],[26.55,2.772],[26.15,2.853],[25.6,2.934],[24.9,2.901],[24.5,2.998],[23.85,2.998],[23.7,2.934],[23.3,2.869],[22.9,2.805],[22.45,2.772],[22.05,2.805],[21.7,2.869],[21.6,2.949],[21.25,2.837],[21.1,2.740],
[22.2,2.68],[22.5,2.62],[22.8,2.55],[23.5,2.55],[24.0,2.65],[24.2,2.70],[24.4,2.66],[24.6,2.62],[23.8,2.72],[24.1,2.58],[22.3,2.74],[23.0,2.50],[23.2,2.40],[22.9,2.45],[23.4,2.30],[23.6,2.25],[24.8,2.50],[25.2,2.55],[25.8,2.60],[26.2,2.65],[26.9,2.70],[27.5,2.75],[28.0,2.78],[22.6,2.90],[23.1,2.95],[24.0,3.05],[24.3,3.10],[23.6,3.18],[23.8,3.22],[23.5,3.20],[22.3,3.10],[22.8,3.30],[21.9,3.45],[21.7,3.55],[22.4,3.60],[25.0,3.20],[25.8,3.30],[26.4,3.40],[27.1,3.15],[27.8,3.05],[26.8,2.48],[27.2,2.30],[28.5,2.30],[29.3,2.10],[29.5,2.00],[28.8,1.80],[26.5,1.60],[27.5,1.55],[28.3,1.62],[25.9,1.55],[24.8,1.62],[24.0,1.48],[23.3,1.50],[22.5,1.45],
[23.3,3.16],[23.45,3.19],[23.6,3.15],[23.75,3.21],[23.5,3.12],[24.0,2.68],[24.15,2.72],[24.3,2.66],[24.45,2.70],[24.2,2.62],[24.35,2.76],[23.9,2.64],[22.1,2.62],[22.3,2.58],[22.6,2.70],[22.9,2.62],[23.2,2.66],[23.4,2.58],[22.2,2.48],[22.6,2.52],[23.0,2.56],[23.6,2.48],[22.4,2.85],[22.7,2.95],[23.3,2.88],[21.9,2.75],[22.3,2.92],[24.5,2.95],[24.9,2.85],[25.4,2.75],[25.9,2.85],[26.4,2.95],[27.0,2.85],[27.6,2.95],[28.3,2.85],[25.1,2.45],[25.6,2.55],[26.1,2.35],[26.7,2.25],[27.3,2.15],[27.9,2.25],[28.5,2.15],[24.6,2.25],[25.2,2.15],[25.8,2.25],[26.4,2.10],[25.0,1.95],[25.6,1.85],[26.2,1.90],[26.8,1.95],[27.4,1.75],[28.0,1.70],[28.6,1.65],[24.6,1.75],[25.2,1.60],[25.8,1.65],[26.4,1.50],[27.0,1.45],[27.8,1.40],[28.4,1.50],[23.8,1.60],[23.4,1.85],[22.8,1.85],[22.2,2.05],[22.6,2.25],[23.1,2.20],[21.6,2.25],[21.8,2.10],[21.5,3.10],[22.0,3.25],[22.6,3.45],[23.2,3.55],[24.0,3.45],[24.6,3.35],[25.3,3.25],[26.0,3.20],[26.8,3.35],[27.5,3.25],[28.3,3.40],[29.1,3.00],[29.2,2.80],[28.6,2.60],[27.8,2.45],[22.5,3.80],[23.4,3.85],[24.8,3.70],[26.2,3.55],[21.8,3.30]];

// ---------- CHART ----------
const xRange = [15.68, 51.32];
const FONT = "Liberation Sans, Arial, Helvetica, sans-serif";

const panels = [
  {pts: vesselPts, yr: [-0.03, 0.78], tv: vesselTicks, tt: vesselTickText,
   xd: [0.0562, 0.4739], yd: [0.7205, 0.9980], titleX: 18, annX: 0.277, annY: 0.928},
  {pts: fiberPts, yr: [0.5856, 0.9744], tv: fiberTicks, tt: fiberTickText,
   xd: [0.5823, 0.9991], yd: [0.7205, 0.9980], titleX: 857.5, annX: 0.276, annY: 0.957},
  {pts: rayPts, yr: [0.1796, 0.7304], tv: rayTicks, tt: rayTickText,
   xd: [0.0581, 0.4756], yd: [0.3814, 0.6600], titleX: 21.5, annX: 0.2765, annY: 0.9486},
  {pts: parPts, yr: [0.1776, 0.7824], tv: parTicks, tt: parTickText,
   xd: [0.5823, 0.9991], yd: [0.3739, 0.6529], titleX: 857.5, annX: 0.276, annY: 0.9517},
  {pts: lumenPts, yr: [-1.764, -0.036], tv: lumenTicks, tt: lumenTickText,
   xd: [0.0645, 0.4816], yd: [0.0405, 0.3194], titleX: 32, annX: 0.2767, annY: 0.9136},
  {pts: compPts, yr: [0.34, 4.66], tv: compTicks, tt: compTickText,
   xd: [0.5830, 0.9991], yd: [0.0360, 0.3147], titleX: 855, annX: 0.2765, annY: 0.9194}
];

const W = 1596, H = 2248;
const traces = [];
const layout = {
  width: W, height: H, margin: {l: 0, r: 0, t: 0, b: 0},
  paper_bgcolor: "#ffffff", plot_bgcolor: "#ffffff",
  showlegend: false, font: {family: FONT, size: 31, color: "#000"},
  annotations: []
};

panels.forEach((p, i) => {
  const n = i === 0 ? "" : String(i + 1);
  const xa = "x" + n, ya = "y" + n;
  traces.push({
    type: "scatter", mode: "markers", xaxis: xa, yaxis: ya,
    x: p.pts.map(d => d[0]), y: p.pts.map(d => d[1]),
    marker: {symbol: "circle-open", size: 15, color: "#000", line: {width: 1.3, color: "#000"}},
    hoverinfo: "skip"
  });
  traces.push({
    type: "scatter", mode: "lines", xaxis: xa, yaxis: ya,
    x: xRange, y: xRange.map(x => solidA[i] + solidB[i] * x),
    line: {color: "#000", width: 2.6}, hoverinfo: "skip"
  });
  traces.push({
    type: "scatter", mode: "lines", xaxis: xa, yaxis: ya,
    x: xRange, y: xRange.map(x => dashA[i] + dashB[i] * x),
    line: {color: "#000", width: 2.6, dash: "14px,11px"}, hoverinfo: "skip"
  });
  const common = {
    showline: true, mirror: true, linecolor: "#000", linewidth: 1.4,
    showgrid: false, zeroline: false, ticks: "outside", ticklen: 9,
    tickwidth: 1.4, tickcolor: "#000", tickfont: {family: FONT, size: 31, color: "#000"},
    fixedrange: true
  };
  layout["xaxis" + n] = Object.assign({}, common, {
    domain: p.xd, range: xRange, anchor: ya, ticklabelstandoff: -18,
    tickmode: "array", tickvals: latTicks, ticktext: latTickText
  });
  layout["yaxis" + n] = Object.assign({}, common, {
    domain: p.yd, range: p.yr, anchor: xa,
    tickmode: "array", tickvals: p.tv, ticktext: p.tt, tickangle: -90
  });
  // y axis title
  layout.annotations.push({
    xref: "paper", yref: "paper", x: p.titleX / W, y: (p.yd[0] + p.yd[1]) / 2,
    text: yTitles[i], textangle: -90, showarrow: false,
    xanchor: "center", yanchor: "middle", font: {family: FONT, size: 32.5, color: "#000"}
  });
  // statistics text
  layout.annotations.push({
    xref: xa + " domain", yref: ya + " domain", x: p.annX, y: p.annY,
    text: "R<sub>phy</sub>\u00a0 = " + rPhy[i] + "***\u00a0\u00a0\u00a0R<sup>2</sup> = " + rSq[i] + "***",
    showarrow: false, xanchor: "left", yanchor: "middle",
    font: {family: FONT, size: 31, color: "#000"}
  });
  layout.annotations.push({
    xref: xa + " domain", yref: ya + " domain", x: p.annX, y: p.annY,
    xshift: 23, yshift: 17,
    text: "2", showarrow: false, xanchor: "left", yanchor: "middle",
    font: {family: FONT, size: 22, color: "#000"}
  });
});

// x-axis titles for the bottom row
layout.annotations.push({
  xref: "paper", yref: "paper", x: 436 / W, y: 1 - 2220 / H, text: xTitle,
  showarrow: false, xanchor: "center", yanchor: "middle", font: {family: FONT, size: 32.5, color: "#000"}
});
layout.annotations.push({
  xref: "paper", yref: "paper", x: 1263 / W, y: 1 - 2232 / H, text: xTitle,
  showarrow: false, xanchor: "center", yanchor: "middle", font: {family: FONT, size: 32.5, color: "#000"}
});

Plotly.newPlot("chart", traces, layout, {displayModeBar: false, staticPlot: true});
</script>
</body></html>
